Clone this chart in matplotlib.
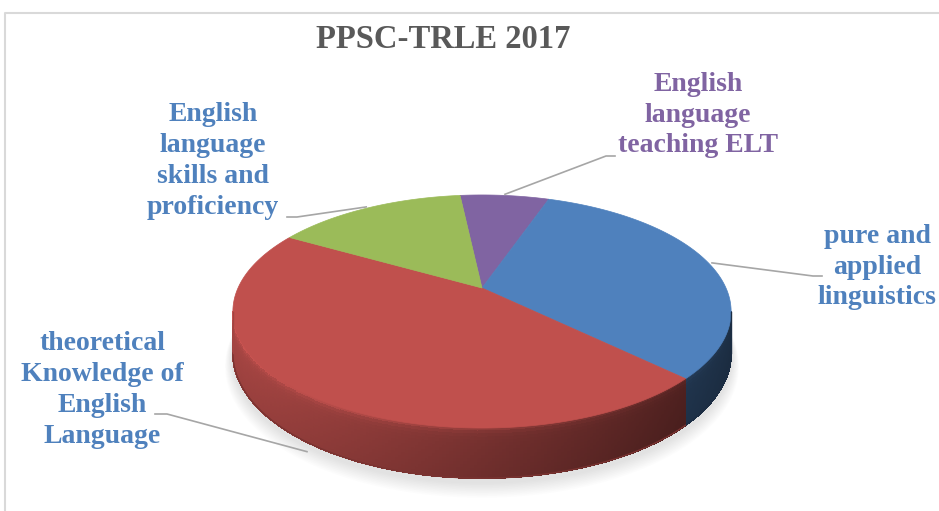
import numpy as np
import matplotlib
matplotlib.use('Agg')
import matplotlib.pyplot as plt
from matplotlib.collections import PolyCollection
from matplotlib.colors import to_rgb

# exam topic shares, drawn clockwise from the top
categories = ['English language teaching ELT',
              'pure and applied linguistics',
              'theoretical Knowledge of English Language',
              'English language skills and proficiency']
values = [7, 32, 46, 15]
slice_colors = ['#8064A2', '#4F81BD', '#C0504D', '#9BBB59']
label_colors = ['#8064A2', '#4F81BD', '#4F81BD', '#4F81BD']
label_lines = ['English\nlanguage\nteaching ELT',
               'pure and\napplied\nlinguistics',
               'theoretical\nKnowledge of\nEnglish\nLanguage',
               'English\nlanguage\nskills and\nproficiency']
title = 'PPSC-TRLE 2017'

# layout in pixels
W, H = 939, 511
CX, CY = 482, 288          # apex of the pie on screen
RX, RY = 244, 111.8        # radii of the top face
PERSP = 0.2017             # perspective strength (far side shrinks)
DEPTH = 40                 # thickness of the disc
START = 96.2               # angle of the first slice edge, degrees

label_xy = [(698, 115), (877, 267), (102, 390), (213, 161)]
elbows = [[(606, 156), (615, 156)],
          [(813, 276), (822, 276)],
          [(167, 414), (155, 414)],
          [(297, 217), (287, 217)]]
font = 'Liberation Serif'


def project(theta_deg, r=1.0, drop=0.0):
    t = np.radians(theta_deg)
    x = r * np.cos(t)
    z = r * np.sin(t)
    w = 1 + PERSP * z
    return CX + RX * x / w, CY + (-RY * z + drop) / w


def side_shade(base, u, t):
    # darker to the right, bright bevel along the upper rim
    f = np.clip(0.88 - 0.46 * (u - 235) / 445.0, 0.36, 0.9)
    g = 1 + 0.32 * np.exp(-t / 0.07) - 0.08 * t
    return tuple(np.clip(np.array(base) * f * g, 0, 1))


fig = plt.figure(figsize=(W / 100, H / 100), dpi=100)
ax = fig.add_axes([0, 0, 1, 1])
ax.set_xlim(0, W)
ax.set_ylim(H, 0)
ax.axis('off')

# chart frame
ax.plot([5, 5, W], [H, 13, 13], color='#D9D9D9', lw=1.5, solid_capstyle='butt')

total = float(sum(values))
bounds = START - 360 * np.concatenate([[0], np.cumsum(values)]) / total
starts, ends = bounds[:-1], bounds[1:]

# soft shadow under the disc
th = np.linspace(0, 360, 361)
for k in range(10):
    r = 1.0 + 0.003 * (10 - k)
    su, sv = project(th, r=r, drop=DEPTH + 3 + 0.8 * (10 - k))
    ax.fill(su, sv, color='#808080', alpha=0.018, lw=0)

# visible part of the rim lies between the two silhouette angles
sil = np.degrees(np.arcsin(PERSP))
vis_lo, vis_hi = -180 + sil, -sil

polys, cols = [], []
n_v = 16
for i in range(len(values)):
    base = to_rgb(slice_colors[i])
    lo, hi = ends[i], starts[i]
    for shift in (-360, 0, 360):
        a0 = max(lo + shift, vis_lo)
        a1 = min(hi + shift, vis_hi)
        if a1 <= a0:
            continue
        angs = np.linspace(a0, a1, int((a1 - a0) * 1.5) + 2)
        ts = np.linspace(0, 1, n_v + 1)
        for j in range(len(angs) - 1):
            for m in range(n_v):
                pts = []
                for aa, tt in ((angs[j], ts[m]), (angs[j + 1], ts[m]),
                               (angs[j + 1], ts[m + 1]), (angs[j], ts[m + 1])):
                    pts.append(project(aa, drop=DEPTH * tt))
                polys.append(pts)
                um = 0.5 * (pts[0][0] + pts[1][0])
                cols.append(side_shade(base, um, 0.5 * (ts[m] + ts[m + 1])))
ax.add_collection(PolyCollection(polys, facecolors=cols, edgecolors=cols,
                                 lw=0.6, antialiased=False))
# smooth outer edge of the rim
for i in range(len(values)):
    lo, hi = ends[i], starts[i]
    for shift in (-360, 0, 360):
        a0 = max(lo + shift, vis_lo)
        a1 = min(hi + shift, vis_hi)
        if a1 <= a0:
            continue
        arc = np.linspace(a0, a1, 200)
        bu, bv = project(arc, drop=DEPTH)
        ax.plot(bu, bv, color=side_shade(to_rgb(slice_colors[i]), bu.mean(), 1.0),
                lw=1.0)
lu, lv = project(np.array([vis_lo, vis_lo]), drop=np.array([0, DEPTH]))
ax.plot(lu, lv, color=side_shade(to_rgb(slice_colors[2]), lu[0], 0.5), lw=1.0)
ru, rv = project(np.array([vis_hi, vis_hi]), drop=np.array([0, DEPTH]))
ax.plot(ru, rv, color=side_shade(to_rgb(slice_colors[1]), ru[0], 0.5), lw=1.0)

# top faces
for i in range(len(values)):
    arc = np.linspace(starts[i], ends[i], 200)
    u, v = project(arc)
    ax.fill(np.r_[CX, u], np.r_[CY, v], color=slice_colors[i], lw=0.5,
            ec=slice_colors[i])

# leader lines
for i in range(len(values)):
    mid = 0.5 * (starts[i] + ends[i])
    if categories[i].startswith('theoretical'):
        au, av = project(mid, drop=DEPTH * 1.2)
    else:
        au, av = project(mid, r=1.015)
    xs = [au] + [p[0] for p in elbows[i]]
    ys = [av] + [p[1] for p in elbows[i]]
    ax.plot(xs, ys, color='#A6A6A6', lw=1.2)

for i in range(len(values)):
    ax.text(label_xy[i][0], label_xy[i][1], label_lines[i], ha='center',
            va='center', fontsize=20, fontweight='bold', family=font,
            color=label_colors[i], linespacing=1.3)

ax.text(443, 40, title, ha='center', va='center', fontsize=23.5,
        fontweight='bold', family=font, color='#595959')

fig.savefig('out.png', dpi=100)
